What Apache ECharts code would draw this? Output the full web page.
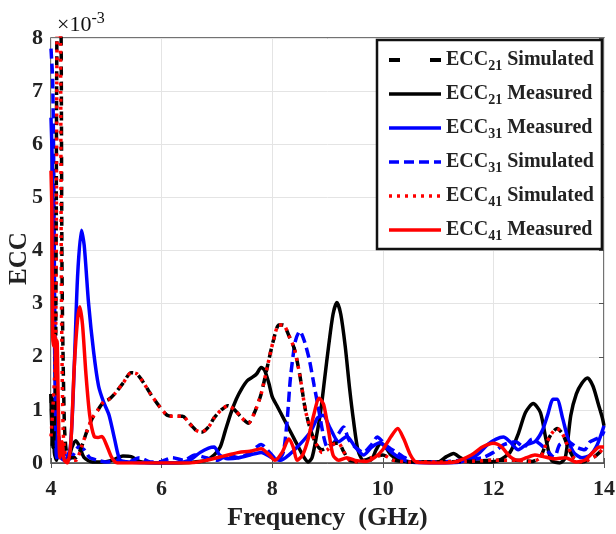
<!DOCTYPE html>
<html><head><meta charset="utf-8">
<script src="https://cdn.jsdelivr.net/npm/echarts@6/dist/echarts.min.js"></script>
<style>html,body{margin:0;padding:0;background:#fff}#c{width:616px;height:534px}</style>
</head><body><div id="c"></div>
<script>
// ---- data (ECC values in units of 1e-3) ----
const xTicks = [4, 6, 8, 10, 12, 14];
const yTicks = [0, 1, 2, 3, 4, 5, 6, 7, 8];

const ecc21SimF = [4.00,4.04,4.08,4.12,4.17,4.20,4.24,4.28,4.35,4.45,4.55,4.65,4.75,4.85,4.95,5.05,5.15,5.30,5.45,5.55,5.65,5.80,5.95,6.10,6.25,6.38,6.50,6.62,6.72,6.85,6.95,7.08,7.20,7.32,7.45,7.57,7.68,7.80,7.92,8.02,8.12,8.20,8.30,8.40,8.50,8.60,8.70,8.80,8.90,9.00,9.10,9.20,9.30,9.40,9.60,9.80,10.00,10.20,10.50,11.00,11.50,12.00,12.40,12.70,12.85,12.95,13.05,13.15,13.25,13.35,13.45,13.60,13.80,13.92,14.00];
const ecc21SimV = [1.3,0.3,1.5,9.0,9.0,3.5,0.8,0.2,0.1,0.1,0.3,0.6,0.85,1.0,1.15,1.2,1.3,1.5,1.7,1.68,1.55,1.3,1.08,0.9,0.88,0.88,0.75,0.62,0.58,0.68,0.85,1.0,1.08,1.0,0.85,0.75,0.95,1.3,1.85,2.3,2.6,2.6,2.4,2.15,1.65,1.0,0.6,0.35,0.25,0.3,0.37,0.37,0.2,0.05,0.03,0.1,0.15,0.05,0.02,0.02,0.03,0.05,0.05,0.03,0.12,0.35,0.55,0.65,0.55,0.3,0.1,0.02,0.1,0.2,0.3];

const ecc21MeaF = [4.00,4.02,4.04,4.06,4.10,4.15,4.20,4.30,4.38,4.45,4.52,4.60,4.75,4.90,5.10,5.30,5.45,5.60,5.90,6.30,6.60,6.80,6.95,7.06,7.15,7.25,7.35,7.45,7.55,7.65,7.72,7.80,7.86,7.94,8.00,8.10,8.20,8.30,8.40,8.50,8.58,8.65,8.72,8.80,8.88,8.95,9.02,9.10,9.17,9.24,9.32,9.40,9.47,9.55,9.65,9.78,9.88,9.96,10.05,10.15,10.30,10.60,11.00,11.15,11.28,11.40,11.60,11.90,12.10,12.30,12.45,12.58,12.72,12.85,12.95,13.05,13.20,13.30,13.40,13.50,13.60,13.70,13.80,13.90,13.97,14.00];
const ecc21MeaV = [1.3,0.3,1.2,0.2,0.05,0.3,0.1,0.05,0.3,0.42,0.3,0.1,0.02,0.02,0.05,0.13,0.12,0.03,0.0,0.0,0.02,0.05,0.15,0.3,0.6,0.93,1.2,1.4,1.55,1.62,1.68,1.8,1.75,1.5,1.25,1.05,0.85,0.65,0.45,0.25,0.1,0.02,0.1,0.5,1.0,1.6,2.2,2.8,3.02,2.8,2.2,1.4,0.8,0.25,0.05,0.05,0.25,0.37,0.3,0.15,0.05,0.02,0.02,0.12,0.18,0.1,0.02,0.02,0.05,0.2,0.55,0.95,1.12,0.95,0.45,0.05,0.0,0.1,0.9,1.3,1.5,1.6,1.45,1.1,0.85,0.7];

const ecc31MeaF = [4.00,4.02,4.05,4.08,4.10,4.14,4.18,4.25,4.35,4.42,4.48,4.55,4.60,4.68,4.77,4.86,4.95,5.05,5.15,5.25,5.40,5.80,6.20,6.50,6.70,6.85,6.95,7.05,7.20,7.40,7.60,7.80,8.00,8.15,8.30,8.50,8.70,8.82,8.92,9.05,9.20,9.35,9.50,9.65,9.80,9.95,10.10,10.30,10.50,11.00,11.40,11.70,11.90,12.05,12.18,12.30,12.45,12.60,12.75,12.88,12.98,13.08,13.15,13.25,13.35,13.45,13.60,13.75,13.88,14.00];
const ecc31MeaV = [6.5,5.8,3.5,1.0,0.1,0.5,0.1,0.05,0.3,1.8,3.5,4.38,4.1,3.0,2.1,1.45,1.15,0.9,0.45,0.05,0.02,0.0,0.0,0.05,0.2,0.28,0.3,0.15,0.08,0.1,0.15,0.2,0.1,0.05,0.15,0.35,0.6,0.85,0.9,0.65,0.4,0.5,0.3,0.15,0.3,0.38,0.25,0.1,0.02,0.0,0.02,0.15,0.35,0.45,0.49,0.4,0.25,0.35,0.4,0.6,0.9,1.2,1.2,0.85,0.45,0.2,0.1,0.15,0.35,0.7];

const ecc31SimF = [4.00,4.03,4.05,4.07,4.10,4.14,4.20,4.30,4.40,4.50,4.60,4.70,4.85,5.00,5.20,5.40,5.60,5.80,6.00,6.20,6.40,6.60,6.80,7.00,7.20,7.40,7.60,7.80,7.95,8.10,8.20,8.27,8.33,8.42,8.50,8.58,8.67,8.76,8.85,8.93,9.00,9.10,9.20,9.29,9.38,9.50,9.65,9.80,9.90,10.00,10.10,10.25,10.40,10.60,11.00,11.40,11.80,12.00,12.20,12.40,12.55,12.70,12.85,13.00,13.10,13.20,13.35,13.50,13.65,13.75,13.85,13.95,14.00];
const ecc31SimV = [7.8,7.2,5.5,2.5,0.6,0.1,0.3,0.05,0.15,0.3,0.25,0.1,0.05,0.02,0.05,0.02,0.1,0.02,0.03,0.1,0.05,0.15,0.1,0.05,0.15,0.1,0.2,0.35,0.2,0.05,0.2,0.8,1.6,2.3,2.48,2.3,1.95,1.45,0.95,0.5,0.3,0.35,0.55,0.68,0.45,0.3,0.2,0.35,0.49,0.4,0.3,0.2,0.1,0.02,0.02,0.05,0.1,0.2,0.35,0.4,0.3,0.45,0.35,0.2,0.1,0.35,0.4,0.3,0.25,0.4,0.45,0.5,0.6];

const ecc41SimF = [4.00,4.08,4.12,4.16,4.19,4.22,4.26,4.32,4.45,4.55,4.65,4.75,4.85,4.95,5.05,5.15,5.30,5.45,5.55,5.65,5.80,5.95,6.10,6.25,6.38,6.50,6.62,6.72,6.85,6.95,7.08,7.20,7.32,7.45,7.57,7.68,7.80,7.92,8.02,8.12,8.20,8.30,8.40,8.50,8.60,8.70,8.80,8.90,9.00,9.10,9.20,9.30,9.40,9.60,9.80,10.00,10.20,10.50,11.00,11.50,12.00,12.40,12.70,12.85,12.95,13.05,13.15,13.25,13.35,13.45,13.60,13.80,13.92,14.00];
const ecc41SimV = [0.5,2.0,9.0,9.0,3.0,0.6,0.15,0.05,0.05,0.3,0.6,0.85,1.0,1.15,1.2,1.3,1.5,1.7,1.68,1.55,1.3,1.08,0.9,0.88,0.88,0.75,0.62,0.58,0.68,0.85,1.0,1.08,1.0,0.85,0.75,0.95,1.3,1.85,2.3,2.6,2.6,2.4,2.15,1.65,1.0,0.6,0.35,0.2,0.25,0.35,0.37,0.2,0.05,0.02,0.1,0.15,0.05,0.02,0.02,0.03,0.05,0.05,0.03,0.1,0.35,0.55,0.65,0.55,0.3,0.1,0.02,0.1,0.2,0.3];

const ecc41MeaF = [4.00,4.015,4.03,4.05,4.07,4.09,4.11,4.13,4.16,4.20,4.24,4.30,4.36,4.42,4.48,4.52,4.57,4.63,4.70,4.78,4.85,4.92,5.00,5.10,5.20,5.50,6.00,6.50,6.80,7.00,7.20,7.40,7.60,7.80,7.95,8.05,8.18,8.30,8.38,8.45,8.55,8.65,8.75,8.85,8.93,9.02,9.10,9.20,9.35,9.50,9.70,9.85,10.00,10.15,10.27,10.38,10.50,10.60,11.00,11.30,11.60,11.80,12.00,12.15,12.30,12.45,12.60,12.75,12.90,13.10,13.30,13.50,13.65,13.80,13.92,14.00];
const ecc41MeaV = [5.5,4.8,2.4,2.2,2.4,1.6,2.3,1.2,0.1,0.4,0.05,0.0,0.4,1.8,2.7,2.94,2.6,1.7,0.9,0.5,0.48,0.5,0.35,0.1,0.0,0.0,0.0,0.0,0.05,0.1,0.15,0.2,0.22,0.27,0.15,0.05,0.2,0.45,0.3,0.05,0.15,0.45,0.9,1.22,1.1,0.6,0.15,0.05,0.1,0.05,0.03,0.1,0.25,0.5,0.65,0.45,0.15,0.02,0.0,0.02,0.15,0.3,0.37,0.3,0.12,0.05,0.1,0.15,0.12,0.08,0.1,0.02,0.05,0.2,0.3,0.3];

const seriesNames = ['ECC21 Simulated','ECC21 Measured','ECC31 Measured','ECC31 Simulated','ECC41 Simulated','ECC41 Measured'];

function zip(f, v){ return f.map((x,i)=>[x, v[i]]); }

const serif = 'Liberation Serif';
const chart = echarts.init(document.getElementById('c'), null, {renderer:'canvas'});

function mk(name, f, v, color, type, width, z){
  return {name, type:'line', data: zip(f,v), symbol:'none', smooth:0.25, z,
    lineStyle:{color, width, type, cap:'butt'}, itemStyle:{color}, clip:true};
}

const option = {
  animation:false,
  backgroundColor:'#fff',
  title:{
    text:'×10{s|-3}', left:52, top:6,
    textStyle:{fontFamily:serif, fontSize:22, fontWeight:'normal', color:'#111',
      rich:{s:{fontFamily:serif, fontSize:16, color:'#111', padding:[0,0,12,0]}}}
  },
  grid:{left:51, right:12, top:38, bottom:71, show:true, borderColor:'#444', borderWidth:1.5,
        outerBoundsMode:'none', containLabel:false},
  xAxis:[{
    type:'value', min:4, max:14, interval:2,
    name:'Frequency  (GHz)', nameLocation:'middle', nameGap:42, nameMoveOverlap:false,
    nameTextStyle:{fontFamily:serif, fontSize:26, fontWeight:'bold', color:'#222'},
    axisLabel:{fontFamily:serif, fontSize:22, fontWeight:'bold', color:'#222', margin:15},
    axisLine:{show:true, lineStyle:{color:'#555', width:1}},
    axisTick:{show:true, inside:true, length:5, lineStyle:{color:'#555'}},
    splitLine:{show:true, lineStyle:{color:'#e4e4e4', width:1}}
  },{
    type:'value', min:4, max:14, interval:2, position:'top',
    axisLabel:{show:false}, axisLine:{show:false},
    axisTick:{show:true, inside:true, length:5, lineStyle:{color:'#555'}}, splitLine:{show:false}
  }],
  yAxis:[{
    type:'value', min:0, max:8, interval:1,
    name:'ECC', nameLocation:'middle', nameGap:19, nameRotate:90, nameMoveOverlap:false,
    nameTextStyle:{fontFamily:serif, fontSize:25, fontWeight:'bold', color:'#222', padding:[0,16,0,0]},
    axisLabel:{fontFamily:serif, fontSize:22, fontWeight:'bold', color:'#222', margin:8},
    axisLine:{show:false}, axisTick:{show:false},
    splitLine:{show:true, lineStyle:{color:'#e4e4e4', width:1}}
  },{
    type:'value', min:0, max:8, interval:1, position:'right',
    axisLabel:{show:false}, axisLine:{show:false},
    axisTick:{show:true, inside:true, length:5, lineStyle:{color:'#555'}}, splitLine:{show:false}
  }],
  legend:{
    orient:'vertical', left:377, top:40,
    data: seriesNames.map((n,i)=> i===0 ? {name:n, lineStyle:{type:[11,30], width:4}} : {name:n}),
    backgroundColor:'#fff', borderColor:'#111', borderWidth:2.5,
    padding:[7,8,6,10], itemGap:8, itemWidth:52, itemHeight:26,
    lineStyle:{width:3.5},
    itemStyle:{opacity:0},
    formatter: function(n){
      const p = n.split(' ');
      return '{b|' + p[0].slice(0,3) + '}{s|' + p[0].slice(3) + '}{b| ' + p[1] + '}';
    },
    textStyle:{
      fontFamily:serif, fontWeight:'bold', color:'#222', fontSize:20,
      rich:{
        b:{fontFamily:serif, fontWeight:'bold', fontSize:20, color:'#222', lineHeight:24},
        s:{fontFamily:serif, fontWeight:'bold', fontSize:14, color:'#222', padding:[12,0,0,0], lineHeight:16}
      }
    }
  },
  series:[
    mk(seriesNames[0], ecc21SimF, ecc21SimV, '#000000', [9,6], 3.5, 3),
    mk(seriesNames[1], ecc21MeaF, ecc21MeaV, '#000000', 'solid', 3.5, 2),
    mk(seriesNames[2], ecc31MeaF, ecc31MeaV, '#0000ff', 'solid', 3.5, 2),
    mk(seriesNames[3], ecc31SimF, ecc31SimV, '#0000ff', [10,5], 3.5, 2),
    mk(seriesNames[4], ecc41SimF, ecc41SimV, '#ff0000', [3,5], 3.5, 4),
    mk(seriesNames[5], ecc41MeaF, ecc41MeaV, '#ff0000', 'solid', 3.5, 5)
  ]
};
chart.setOption(option);
</script>
</body></html>
